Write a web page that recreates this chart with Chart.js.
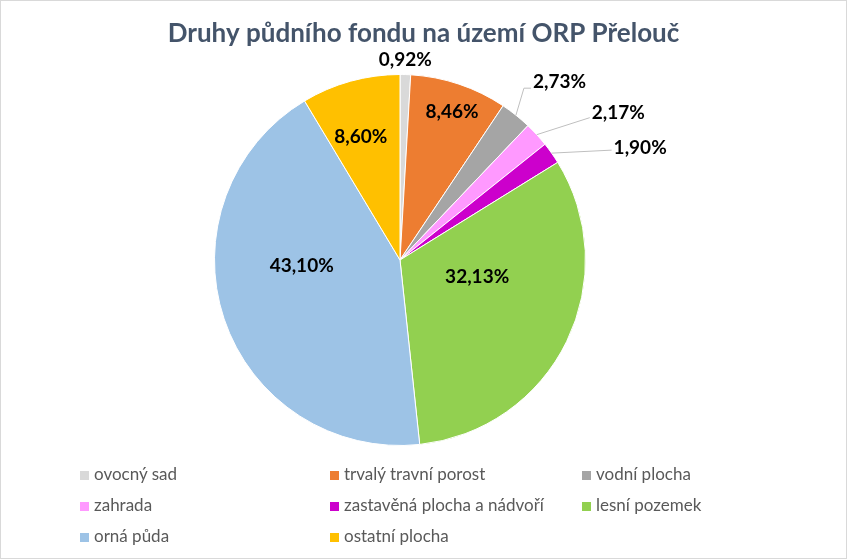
<!DOCTYPE html>
<html>
<head>
<meta charset="utf-8">
<script src="https://cdn.jsdelivr.net/npm/chart.js@4.4.1/dist/chart.umd.min.js"></script>
<style>
  body { margin: 0; background: #fff; }
  #wrap { position: relative; width: 847px; height: 559px; overflow: hidden; }
  #frame { position: absolute; left: 0; top: 0; width: 845px; height: 557px; border: 1px solid #d9d9d9; pointer-events: none; }
  .leg { position: absolute; font: 17px Lato, sans-serif; color: #595959; white-space: nowrap; line-height: 20px; }
  .leg i { display: inline-block; width: 9px; height: 9px; margin-right: 5px; vertical-align: 0px; }
</style>
</head>
<body>
<div id="wrap">
  <canvas id="chart" width="847" height="559"></canvas>
  <div id="legend"></div>
  <div id="frame"></div>
</div>
<script>
// chart data
const chartTitle = 'Druhy půdního fondu na území ORP Přelouč';
const categories = ['ovocný sad', 'trvalý travní porost', 'vodní plocha', 'zahrada',
  'zastavěná plocha a nádvoří', 'lesní pozemek', 'orná půda', 'ostatní plocha'];
const shares = [0.92, 8.46, 2.73, 2.17, 1.90, 32.13, 43.10, 8.60];
const sliceColors = ['#D9D9D9', '#ED7D31', '#A5A5A5', '#FF99FF', '#CC00CC', '#92D050', '#9DC3E6', '#FFC000'];

function fmt(v) {
  return v.toFixed(2).replace('.', ',') + '%';
}

// where each data label goes (fractions of radius for inside, pixel offsets from rim for outside)
const labelPlace = [
  { out: true, dx: 0, dy: -15, line: false },
  { fx: 0.281, fy: -0.80 },
  { out: true, dx: 8, dy: -27, tail: 7, ty: -6, line: true },
  { out: true, dx: 53, dy: -17, tail: 0, ty: -5, line: true },
  { out: true, dx: 60, dy: -3, tail: 0, ty: -2, line: true },
  { fx: 0.416, fy: 0.092 },
  { fx: -0.530, fy: 0.032 },
  { fx: -0.211, fy: -0.665 }
];

const sliceLabels = {
  id: 'sliceLabels',
  afterDatasetsDraw(chart) {
    const ctx = chart.ctx;
    const meta = chart.getDatasetMeta(0);
    ctx.save();
    // title
    ctx.font = 'bold 26px Lato';
    ctx.fillStyle = '#44546A';
    ctx.textAlign = 'center';
    ctx.textBaseline = 'middle';
    ctx.fillText(chartTitle, 423.5, 34);

    ctx.font = 'bold 19px Lato';
    ctx.fillStyle = '#000';
    meta.data.forEach((arc, i) => {
      const p = arc.getProps(['x', 'y', 'startAngle', 'endAngle', 'outerRadius'], true);
      const mid = (p.startAngle + p.endAngle) / 2;
      const r = p.outerRadius;
      const pl = labelPlace[i];
      const text = fmt(shares[i]);
      if (!pl.out) {
        ctx.textAlign = 'center';
        ctx.fillText(text, p.x + pl.fx * r, p.y + pl.fy * r);
        return;
      }
      const ex = p.x + Math.cos(mid) * r;
      const ey = p.y + Math.sin(mid) * r;
      if (!pl.line) {
        ctx.textAlign = 'center';
        ctx.fillText(text, ex + pl.dx, ey + pl.dy);
        return;
      }
      const lx = ex + pl.dx, ly = ey + pl.dy;
      ctx.strokeStyle = '#BFBFBF';
      ctx.lineWidth = 1;
      ctx.beginPath();
      ctx.moveTo(ex, ey);
      ctx.lineTo(lx, ly);
      ctx.lineTo(lx + pl.tail, ly);
      ctx.stroke();
      ctx.textAlign = 'left';
      ctx.fillText(text, lx + pl.tail + 2, ly + pl.ty);
    });
    ctx.restore();
  }
};

const ctx = document.getElementById('chart').getContext('2d');
const chart = new Chart(ctx, {
  type: 'pie',
  data: {
    labels: categories,
    datasets: [{
      data: shares,
      backgroundColor: sliceColors,
      borderColor: '#ffffff',
      borderWidth: 1,
      hoverOffset: 0
    }]
  },
  options: {
    responsive: false,
    animation: false,
    layout: { padding: { top: 74, bottom: 113, left: 0, right: 47 } },
    plugins: {
      legend: { display: false },
      tooltip: { enabled: false },
      title: { display: false }
    }
  },
  plugins: [sliceLabels]
});

// legend below the pie, three columns
const legCols = [80, 330, 582];
const legRows = [474, 505, 536];
const legend = document.getElementById('legend');
categories.forEach((name, i) => {
  const d = document.createElement('div');
  d.className = 'leg';
  d.style.left = legCols[i % 3] + 'px';
  d.style.top = (legRows[Math.floor(i / 3)] - 10) + 'px';
  d.innerHTML = '<i style="background:' + sliceColors[i] + '"></i>' + name;
  legend.appendChild(d);
});
</script>
</body>
</html>
